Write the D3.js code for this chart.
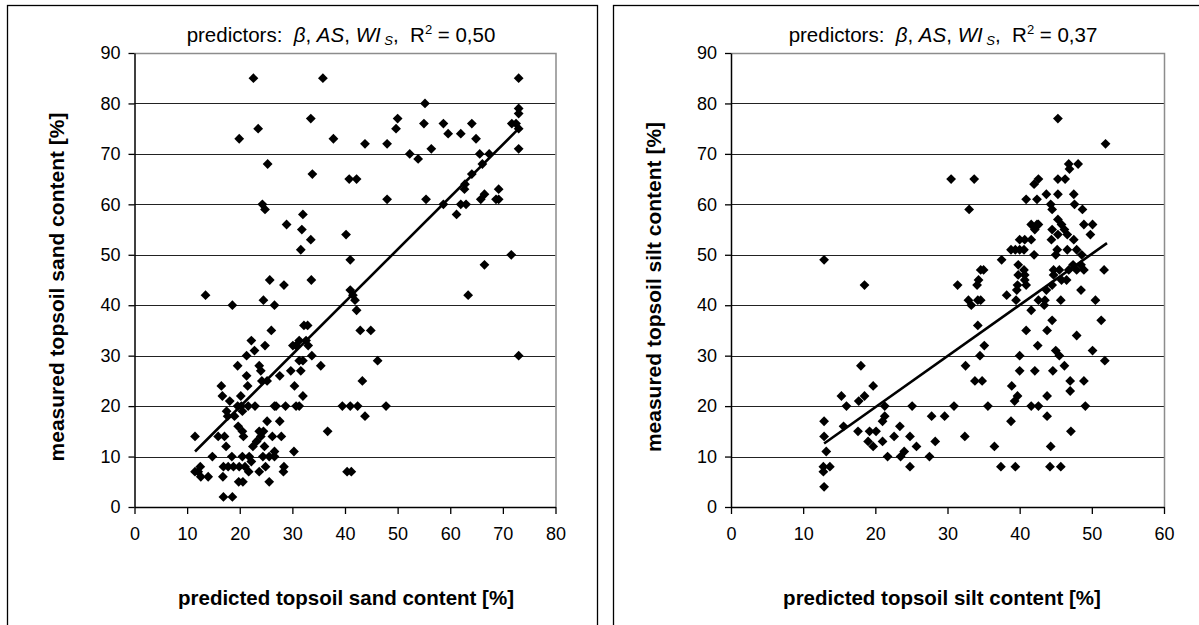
<!DOCTYPE html>
<html>
<head>
<meta charset="utf-8">
<script src="https://cdn.jsdelivr.net/npm/d3@7"></script>
<style>
  body { margin: 0; background: #fff; }
  text { font-family: "Liberation Sans", Arial, sans-serif; fill: #000; }
</style>
</head>
<body>
<div id="chart"></div>
<script>
// data: [predicted, measured]
var sandPoints = [
  [22.6,85],[35.8,85],[73,85],[55.2,80],[33.5,77],[50,77],[23.5,75],[49.7,75],[55,76],[58.7,76],
  [64.1,76],[71.7,76],[72.5,76],[73,79],[73,78],[73,75],[19.9,73],[37.8,73],[43.8,72],[48,72],
  [59.6,74],[62,74],[64.9,73],[52.3,70],[53.9,69],[56.4,71],[65.6,70],[67.4,70],[73,71],[25.3,68],
  [66.1,68],[64.1,66],[33.8,66],[40.8,65],[42.2,65],[62.8,64],[62.7,63],[69.2,63],[66.5,62],[65.8,61],
  [68.7,61],[69.2,61],[48,61],[55.4,61],[24.3,60],[24.8,59],[58.7,60],[62,60],[63,60],[61.2,58],
  [32,58],[28.9,56],[31.8,55],[33.5,53],[40.2,54],[31.6,51],[41,49],[71.6,50],[66.5,48],[25.7,45],
  [33.6,45],[28.4,44],[41,43],[41.5,42],[13.5,42],[63.4,42],[24.5,41],[41.9,41],[18.6,40],[26.6,40],
  [42.2,39],[42.9,35],[44.9,35],[26,35],[32.2,36],[32.9,36],[22.2,33],[22.8,31],[24.8,32],[30.7,32],
  [31.3,33],[32.6,33],[33,32],[30.1,32],[21.3,30],[73,30],[33.7,30],[23.7,28],[19.6,28],[35.4,28],
  [46.2,29],[31.3,29],[32,29],[24,27],[29.7,27],[31.6,27],[27.6,26],[21.3,26],[24.2,25],[25.2,25],
  [43.3,25],[16.5,24],[21.5,24],[30.4,24],[16.7,22],[20.2,22],[32,22],[18.1,21],[19.6,20],[20.3,20],
  [21.6,20],[22.9,20],[26.6,20],[26.9,20],[28.7,20],[30.7,20],[31.3,20],[39.5,20],[41,20],[42.4,20],
  [47.8,20],[20.5,19],[17.5,19],[19,18],[17.7,18],[43.8,18],[27.6,17],[25.2,17],[19.7,16],[20.5,15],
  [23.7,15],[24.5,15],[36.7,15],[11.5,14],[15.9,14],[17.1,14],[20.7,14],[24,14],[26.2,14],[27.9,14],
  [23.2,13],[17.4,12],[22.5,12],[24.7,12],[26.6,11],[30.3,11],[14.8,10],[18.5,10],[20.5,10],[21.8,10],
  [24.4,10],[25.6,10],[26.6,10],[22.2,9],[18.8,8],[16.9,8],[17.8,8],[19.9,8],[21,8],[24.9,8],
  [28.4,8],[12.5,8],[11.5,7],[12.1,7],[21.7,7],[23.7,7],[28.3,7],[40.4,7],[41.2,7],[12.6,6],
  [14,6],[16.8,6],[19.8,5],[20.6,5],[25.6,5],[16.9,2],[18.6,2]
];

var siltPoints = [
  [12.9,49],[12.9,17],[12.9,14],[13.2,11],[12.8,8],[13.7,8],[12.8,7],[12.9,4],[15.3,22],[16,20],
  [15.6,16],[18,28],[18.5,44],[17.7,21],[18.5,22],[17.6,15],[19.7,24],[19.2,15],[20.1,15],[19,13],
  [19.7,12],[21.3,20],[21,17],[21.3,18],[21,13],[21.7,10],[22.6,14],[23.4,16],[23.5,10],[24,11],
  [24.8,14],[25.1,20],[24.8,8],[25.7,12],[27.5,10],[27.8,18],[28.3,13],[29.6,18],[30.5,65],[30.9,20],
  [31.4,44],[32.5,28],[32.4,14],[33,59],[33.7,65],[32.9,41],[33.3,40],[34.1,44],[34.3,45],[34.6,47],
  [35,47],[34.2,41],[34.6,41],[34.2,36],[34.5,30],[33.8,25],[34.8,25],[35.1,32],[35.6,20],[36.5,12],
  [37.4,8],[37.5,49],[38.2,42],[38.8,17],[38.9,24],[38.8,51],[39.4,51],[39.3,21],[39.7,22],[39.4,8],
  [39.5,41],[39.6,43],[39.7,44],[39.8,48],[39.8,46],[40,53],[40,51],[40,30],[40,27],[40.6,47],
  [40.7,46],[40.7,45],[40.9,44],[40.9,61],[40.7,53],[40.6,51],[40.9,35],[41.6,53],[41.6,56],[41.6,39],
  [41.6,20],[42,50],[42,64],[42.1,27],[42.1,55],[42.4,61],[42.4,56],[42.6,65],[42.6,56],[42.5,32],
  [42.6,20],[42.6,41],[43.4,40],[43.5,41],[43.7,43],[43.7,62],[43.8,35],[43.8,22],[43.8,18],[44.3,12],
  [44.2,8],[44.3,60],[44.5,59],[44.5,55],[44.4,53],[44.5,37],[44.6,27],[44.7,46],[44.7,47],[44.5,44],
  [45,50],[45.2,51],[45.3,57],[45.3,54],[45.3,65],[45.3,62],[45.3,77],[45,31],[45.5,30],[45.5,47],
  [45.7,41],[45.7,8],[45.8,56],[45.8,45],[46.2,28],[46.2,55],[46.3,65],[46.5,45],[46.6,54],[46.6,51],
  [46.8,47],[46.8,68],[46.9,67],[47,25],[47,23],[47.1,15],[47.5,62],[47.4,48],[47.5,53],[47.6,60],
  [47.9,51],[48.1,68],[47.9,34],[47.9,47],[48.5,48],[48.5,43],[48.7,59],[48.6,50],[48.9,56],[48.9,47],
  [48.9,25],[49.1,20],[49.8,54],[50.1,56],[50.1,31],[50.5,41],[51.3,37],[51.7,47],[51.8,29],[51.9,72]
];

// linear trend lines, start and end points
var sandTrend = [[11.5, 11], [73, 75]];
var siltTrend = [[12.9, 12.6], [52.1, 52.3]];

var yTickValues = [0, 10, 20, 30, 40, 50, 60, 70, 80, 90];
var sandXTicks = [0, 10, 20, 30, 40, 50, 60, 70, 80];
var siltXTicks = [0, 10, 20, 30, 40, 50, 60];

var svg_w = 1199, svg_h = 625;

var svg = d3.select("#chart").append("svg")
  .attr("width", svg_w)
  .attr("height", svg_h);

var panels = [
  { frame: 7, left: 134.5, right: 555.5, xMax: 80, xTicks: sandXTicks, points: sandPoints, trend: sandTrend,
    r2: "0,50", yTitle: "measured topsoil sand content [%]", xTitle: "predicted topsoil sand content [%]",
    titleX: 341, yTitleX: 57, xTitleX: 346 },
  { frame: 613, left: 731, right: 1164, xMax: 60, xTicks: siltXTicks, points: siltPoints, trend: siltTrend,
    r2: "0,37", yTitle: "measured topsoil silt content [%]", xTitle: "predicted topsoil silt content [%]",
    titleX: 943, yTitleX: 654, xTitleX: 942 }
];

var top_y = 53, bottom_y = 507;

panels.forEach(function(p) {
  // panel frame
  svg.append("rect")
    .attr("x", p.frame + 0.5).attr("y", 5.5)
    .attr("width", 590).attr("height", 640)
    .attr("fill", "none").attr("stroke", "#000").attr("stroke-width", 1.3);

  var x = d3.scaleLinear().domain([0, p.xMax]).range([p.left, p.right]);
  var y = d3.scaleLinear().domain([0, 90]).range([bottom_y, top_y]);

  var g = svg.append("g");

  // gridlines
  g.selectAll(".grid")
    .data(yTickValues.filter(function(d) { return d > 0 && d < 90; }))
    .enter().append("line")
    .attr("x1", p.left).attr("x2", p.right)
    .attr("y1", function(d) { return Math.round(y(d)) + 0.5; })
    .attr("y2", function(d) { return Math.round(y(d)) + 0.5; })
    .attr("stroke", "#222").attr("stroke-width", 1.2);

  // grey plot border top and right
  g.append("path")
    .attr("d", "M" + p.left + "," + (top_y + 0.5) + "H" + (p.right + 0.5) + "V" + bottom_y)
    .attr("fill", "none").attr("stroke", "#8c8c8c").attr("stroke-width", 1.5);

  var yAxis = d3.axisLeft(y).tickValues(yTickValues).tickSize(6).tickSizeOuter(0).tickPadding(8);
  var gy = g.append("g").attr("transform", "translate(" + p.left + ",0)").call(yAxis);
  var xAxis = d3.axisBottom(x).tickValues(p.xTicks).tickSize(7).tickSizeOuter(0).tickPadding(13);
  var gx = g.append("g").attr("transform", "translate(0," + bottom_y + ")").call(xAxis);

  [gy, gx].forEach(function(a) {
    a.select(".domain").attr("stroke", "#000").attr("stroke-width", 1.5);
    a.selectAll(".tick line").attr("stroke", "#000").attr("stroke-width", 1.3);
    a.selectAll(".tick text")
      .attr("font-size", 18).attr("font-family", "Liberation Sans, Arial, sans-serif").attr("fill", "#000");
  });

  // points
  g.selectAll(".pt")
    .data(p.points)
    .enter().append("path")
    .attr("d", "M0,-4.9L4.9,0L0,4.9L-4.9,0Z")
    .attr("transform", function(d) { return "translate(" + x(d[0]) + "," + y(d[1]) + ")"; })
    .attr("fill", "#000");

  // trend line
  g.append("line")
    .attr("x1", x(p.trend[0][0])).attr("y1", y(p.trend[0][1]))
    .attr("x2", x(p.trend[1][0])).attr("y2", y(p.trend[1][1]))
    .attr("stroke", "#000").attr("stroke-width", 2.6);

  // title with italic symbols, subscript and superscript
  var t = svg.append("text")
    .attr("x", p.titleX).attr("y", 42)
    .attr("text-anchor", "middle").attr("font-size", 20.5);
  t.append("tspan").text("predictors:\u00A0 ");
  t.append("tspan").attr("font-style", "italic").text("\u03B2");
  t.append("tspan").text(", ");
  t.append("tspan").attr("font-style", "italic").text("AS");
  t.append("tspan").text(", ");
  t.append("tspan").attr("font-style", "italic").text("WI");
  t.append("tspan").attr("font-style", "italic").attr("font-size", 13).attr("dy", 3).text("\u00A0S");
  t.append("tspan").attr("dy", -3).text(",\u00A0 R");
  t.append("tspan").attr("font-size", 13).attr("dy", -8).text("2");
  t.append("tspan").attr("dy", 8).text(" = " + p.r2);

  // axis titles
  svg.append("text")
    .attr("transform", "translate(" + p.yTitleX + "," + ((top_y + bottom_y) / 2 + 7) + ") rotate(-90)")
    .attr("text-anchor", "middle").attr("dy", "0.35em")
    .attr("font-size", 21).attr("font-weight", "bold")
    .text(p.yTitle);

  svg.append("text")
    .attr("x", p.xTitleX).attr("y", 605)
    .attr("text-anchor", "middle")
    .attr("font-size", 20.5).attr("font-weight", "bold")
    .text(p.xTitle);
});
</script>
</body>
</html>
